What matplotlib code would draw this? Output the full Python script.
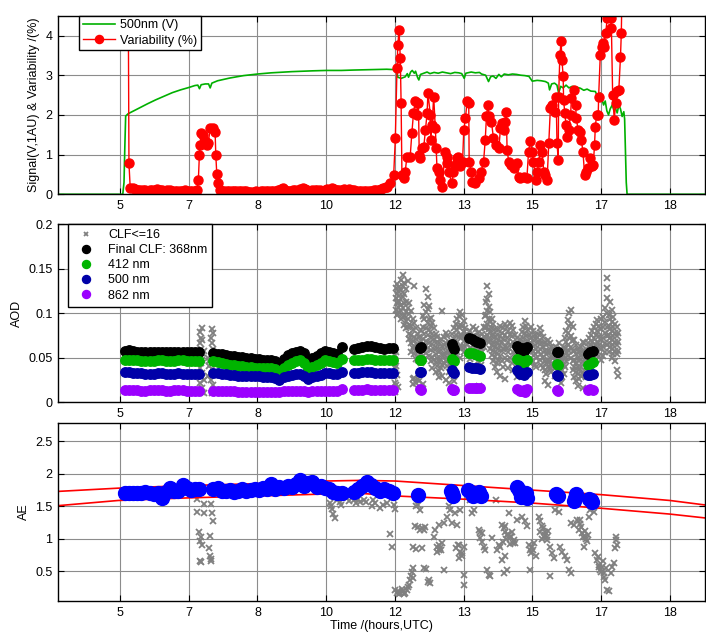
import numpy as np
import matplotlib.pyplot as plt

plt.rcParams['font.family'] = ['Liberation Sans', 'DejaVu Sans']
plt.rcParams['font.size'] = 9

# time axis in hours UTC; ticks every 100 min, labelled with the hour only
tick_labels = ['5', '7', '8', '10', '12', '13', '15', '17', '18']
tick_hours = [5 + 1 / 3 + k * 5 / 3 for k in range(len(tick_labels))]
x_range = (3.83, 19.53)

# ---------------- panel 1: signal and variability ----------------
signal_t = [3.83, 5.40, 5.43, 5.45, 5.47, 5.53, 5.70, 5.85, 6.00, 6.20, 6.40, 6.60,
            6.80, 7.00, 7.15, 7.22, 7.26, 7.30, 7.40, 7.48, 7.52, 7.56, 7.70, 8.00,
            8.33, 8.67, 9.00, 9.50, 10.00, 10.33, 10.70, 11.00, 11.40, 11.80, 12.00,
            12.04, 12.07, 12.15, 12.25, 12.30, 12.33, 12.38, 12.42, 12.47, 12.50, 12.55,
            12.58, 12.62, 12.70, 12.78, 12.85, 12.95, 13.05, 13.15, 13.25, 13.35, 13.45,
            13.55, 13.62, 13.68, 13.72, 13.85, 13.95, 14.05, 14.10, 14.20, 14.27, 14.32,
            14.38, 14.45, 14.52, 14.58, 14.65, 14.75, 14.85, 14.95, 15.05, 15.15, 15.25,
            15.33, 15.45, 15.55, 15.65, 15.72, 15.75, 15.80, 15.87, 15.93, 15.97, 16.02,
            16.08, 16.15, 16.22, 16.30, 16.40, 16.50, 16.58, 16.66, 16.75, 16.86, 16.92,
            16.98, 17.02, 17.06, 17.10, 17.14, 17.18, 17.22, 17.27, 17.31, 17.35, 17.39,
            17.43, 17.47, 17.51, 17.55, 17.57, 17.61, 17.63, 19.53]
signal_v = [0, 0, 0.3, 1.2, 1.97, 2.03, 2.12, 2.20, 2.28, 2.38, 2.47, 2.56,
            2.63, 2.69, 2.74, 2.75, 2.66, 2.76, 2.78, 2.78, 2.68, 2.80, 2.86, 2.93,
            2.99, 3.03, 3.06, 3.09, 3.11, 3.12, 3.12, 3.13, 3.14, 3.15, 3.14,
            3.13, 2.95, 2.92, 2.96, 3.04, 2.95, 3.08, 3.12, 3.05, 3.10, 2.94,
            2.88, 3.02, 3.05, 3.08, 3.04, 3.07, 3.05, 3.08, 3.06, 3.04, 3.07,
            3.06, 3.04, 2.92, 3.05, 3.08, 3.06, 3.07, 3.03, 3.00, 2.84, 2.96,
            2.98, 2.92, 3.02, 2.96, 3.03, 3.01, 3.03, 3.02, 3.00, 2.99, 2.97,
            2.85, 2.87, 2.86, 2.84, 2.80, 2.63, 2.78, 2.80, 2.75, 2.55, 2.72,
            2.68, 2.75, 2.68, 2.72, 2.70, 2.67, 2.62, 2.65, 2.60, 2.59, 2.45,
            2.55, 2.40, 2.25, 2.35, 2.10, 2.00, 2.15, 2.25, 2.12, 2.16, 2.05,
            2.25, 2.15, 1.96, 2.08, 1.90, 0.30, 0, 0]

# variability: first sample is off scale
var_start_t = [5.52, 5.55]
var_start_v = [8.0, 0.78]
# quiet morning, regular sampling 5.58 h .. 7.20 h
var_morning = [0.17, 0.15, 0.13, 0.12, 0.11, 0.10, 0.10, 0.09, 0.10, 0.11, 0.12, 0.13, 0.12, 0.10,
               0.09, 0.10, 0.11, 0.09, 0.08, 0.09, 0.08, 0.09, 0.10, 0.09, 0.08, 0.08, 0.09, 0.10]
var_bump_t = [7.233, 7.258, 7.275, 7.299, 7.355, 7.396, 7.437, 7.476, 7.518, 7.598,
              7.639, 7.656, 7.680, 7.719, 7.760]
var_bump_v = [0.36, 0.99, 1.24, 1.54, 1.50, 1.33, 1.24, 1.30, 1.66, 1.66,
              1.58, 0.99, 0.51, 0.29, 0.11]
# quiet midday, regular sampling 7.80 h .. 11.78 h
var_midday = [0.09, 0.08, 0.09, 0.08, 0.08, 0.07, 0.08, 0.07, 0.07, 0.08, 0.07, 0.06, 0.06, 0.06,
              0.07, 0.06, 0.07, 0.07, 0.08, 0.07, 0.08, 0.09, 0.08, 0.10, 0.14, 0.16, 0.12, 0.09,
              0.08, 0.10, 0.12, 0.09, 0.13, 0.17, 0.14, 0.10, 0.09, 0.10, 0.12, 0.10, 0.11, 0.09,
              0.11, 0.13, 0.12, 0.16, 0.14, 0.11, 0.10, 0.12, 0.13, 0.11, 0.14, 0.12, 0.10, 0.08,
              0.07, 0.08, 0.07, 0.08, 0.09, 0.08, 0.10, 0.11, 0.12, 0.13, 0.16, 0.19]
var_pm_t = [11.81, 11.89, 11.97, 12.01, 12.05, 12.07, 12.10, 12.13, 12.15, 12.17, 12.21, 12.25,
            12.29, 12.37, 12.41, 12.45, 12.49, 12.53, 12.57, 12.59, 12.62, 12.66, 12.70, 12.74,
            12.78, 12.80, 12.86, 12.87, 12.90, 12.94, 12.98, 13.00, 13.02, 13.06, 13.10, 13.14,
            13.22, 13.26, 13.27, 13.30, 13.38, 13.42, 13.46, 13.51, 13.54, 13.59, 13.64, 13.67,
            13.71, 13.75, 13.79, 13.80, 13.85, 13.88, 13.95, 14.03, 14.09, 14.15, 14.19, 14.22,
            14.25, 14.29, 14.34, 14.39, 14.44, 14.52, 14.56, 14.60, 14.64, 14.66, 14.70, 14.72,
            14.76, 14.82, 14.88, 14.96, 15.00, 15.04, 15.12, 15.20, 15.24, 15.28, 15.33, 15.36,
            15.41, 15.45, 15.49, 15.53, 15.57, 15.61, 15.65, 15.69, 15.73, 15.77, 15.81, 15.87,
            15.91, 15.93, 15.96, 15.97, 16.00, 16.03, 16.05, 16.08, 16.09, 16.12, 16.15, 16.18,
            16.21, 16.26, 16.28, 16.34, 16.38, 16.40, 16.44, 16.48, 16.52, 16.56, 16.60, 16.64,
            16.69, 16.72, 16.77, 16.81, 16.84, 16.86, 16.89, 16.93, 16.94, 16.98, 17.01, 17.04,
            17.06, 17.11, 17.15, 17.19, 17.23, 17.25, 17.28, 17.32, 17.35, 17.39, 17.43, 17.47,
            17.49, 17.52]
var_pm_v = [0.19, 0.28, 0.49, 1.41, 3.18, 3.77, 4.14, 3.43, 2.29, 0.49, 0.40, 0.57,
            0.95, 0.95, 1.54, 2.04, 2.34, 2.00, 2.29, 0.99, 0.91, 1.16, 1.20, 1.62,
            2.04, 2.55, 2.00, 1.37, 1.75, 2.46, 1.66, 1.16, 0.66, 0.57, 0.36, 0.19,
            1.07, 0.95, 0.78, 0.57, 0.28, 0.57, 0.74, 0.91, 0.95, 0.70, 0.82, 1.62,
            1.92, 2.34, 2.29, 0.82, 0.57, 0.32, 0.28, 0.40, 0.57, 0.82, 1.37, 1.96,
            2.25, 1.96, 1.83, 1.41, 1.24, 1.16, 1.66, 1.79, 1.62, 1.83, 2.08, 1.12,
            0.82, 0.74, 0.66, 0.78, 0.44, 0.40, 0.44, 0.40, 1.07, 1.33, 1.07, 0.82,
            0.36, 0.57, 0.82, 1.24, 1.07, 0.57, 0.49, 0.36, 1.29, 2.17, 2.25, 2.08,
            2.46, 1.29, 0.87, 2.46, 3.51, 3.85, 3.39, 2.97, 2.38, 2.04, 1.75, 1.45,
            1.62, 2.00, 2.42, 2.63, 2.25, 1.92, 1.62, 1.58, 1.37, 1.07, 0.49, 0.57,
            0.66, 0.91, 0.70, 0.74, 1.24, 1.70, 2.00, 2.00, 2.46, 3.51, 3.72, 3.81,
            3.72, 4.06, 4.44, 6.00, 4.44, 4.19, 2.50, 1.87, 2.29, 2.59, 2.63, 3.47,
            4.06, 6.00]

# ---------------- panel 2: AOD ----------------
# sample times of the cloud-screened points (shared by all wavelengths)
aod_t = np.concatenate([np.linspace(5.45, 7.25, 19), np.linspace(7.6, 10.6, 31), [10.72],
                        np.linspace(11.0, 11.95, 10),
                        [12.61, 12.64, 13.38, 13.41, 13.44, 13.79, 13.86, 13.93, 14.00, 14.07,
                         14.96, 15.00, 15.04, 15.08, 15.12, 15.16, 15.20, 15.92, 15.95,
                         16.68, 16.74, 16.80]])
aod_368 = [0.058, 0.059, 0.058, 0.057, 0.057, 0.056, 0.056, 0.056, 0.057, 0.057, 0.056, 0.056,
           0.057, 0.057, 0.057, 0.056, 0.056, 0.056, 0.057,
           0.055, 0.054, 0.054, 0.053, 0.052, 0.052, 0.051, 0.051, 0.050, 0.050, 0.049, 0.049,
           0.048, 0.048, 0.047, 0.046, 0.044, 0.049, 0.053, 0.055, 0.057, 0.058, 0.055, 0.047,
           0.050, 0.052, 0.055, 0.058, 0.057, 0.055, 0.054,
           0.062,
           0.060, 0.061, 0.062, 0.063, 0.063, 0.062, 0.061, 0.060, 0.061, 0.061,
           0.061, 0.062, 0.065, 0.062, 0.060, 0.072, 0.071, 0.069, 0.068, 0.066,
           0.063, 0.060, 0.059, 0.061, 0.058, 0.060, 0.062, 0.057, 0.056, 0.054, 0.056, 0.058]
aod_412 = [0.047, 0.048, 0.047, 0.047, 0.046, 0.046, 0.046, 0.046, 0.047, 0.047, 0.046, 0.046,
           0.046, 0.047, 0.047, 0.046, 0.046, 0.046, 0.046,
           0.046, 0.045, 0.044, 0.043, 0.042, 0.042, 0.041, 0.041, 0.040, 0.040, 0.039, 0.039,
           0.039, 0.038, 0.038, 0.037, 0.035, 0.039, 0.042, 0.044, 0.046, 0.047, 0.044, 0.037,
           0.040, 0.042, 0.044, 0.047, 0.046, 0.045, 0.044,
           0.049,
           0.047, 0.048, 0.048, 0.049, 0.049, 0.048, 0.047, 0.047, 0.047, 0.047,
           0.047, 0.048, 0.049, 0.047, 0.046, 0.055, 0.055, 0.054, 0.053, 0.052,
           0.049, 0.047, 0.045, 0.046, 0.044, 0.046, 0.048, 0.043, 0.042, 0.042, 0.043, 0.045]
aod_500 = [0.034, 0.034, 0.033, 0.033, 0.033, 0.032, 0.032, 0.032, 0.033, 0.033, 0.032, 0.032,
           0.032, 0.033, 0.032, 0.032, 0.032, 0.032, 0.032,
           0.033, 0.033, 0.032, 0.032, 0.031, 0.031, 0.030, 0.030, 0.030, 0.029, 0.029, 0.029,
           0.028, 0.028, 0.028, 0.027, 0.025, 0.028, 0.030, 0.031, 0.032, 0.032, 0.030, 0.026,
           0.028, 0.030, 0.031, 0.033, 0.033, 0.032, 0.032,
           0.034,
           0.033, 0.033, 0.034, 0.034, 0.034, 0.033, 0.033, 0.033, 0.033, 0.033,
           0.034, 0.034, 0.036, 0.034, 0.033, 0.040, 0.039, 0.039, 0.038, 0.037,
           0.036, 0.034, 0.032, 0.033, 0.031, 0.033, 0.034, 0.031, 0.030, 0.031, 0.031, 0.032]
aod_862 = [0.014, 0.014, 0.014, 0.014, 0.013, 0.013, 0.014, 0.014, 0.014, 0.014, 0.013, 0.013,
           0.014, 0.014, 0.014, 0.013, 0.013, 0.013, 0.013,
           0.013, 0.013, 0.013, 0.013, 0.013, 0.013, 0.012, 0.012, 0.012, 0.012, 0.012, 0.012,
           0.012, 0.012, 0.012, 0.012, 0.012, 0.013, 0.013, 0.013, 0.013, 0.013, 0.013, 0.012,
           0.013, 0.013, 0.013, 0.013, 0.013, 0.013, 0.013,
           0.015,
           0.014, 0.014, 0.014, 0.015, 0.014, 0.014, 0.014, 0.014, 0.014, 0.014,
           0.015, 0.014, 0.015, 0.014, 0.014, 0.016, 0.016, 0.016, 0.016, 0.016,
           0.015, 0.014, 0.013, 0.013, 0.014, 0.012, 0.015, 0.014, 0.013, 0.014, 0.015, 0.014]

# loosely screened points (CLF<=16): hour -> AOD values seen at that time
clf_aod = [
    (7.27, [0.079, 0.066, 0.050, 0.038, 0.022]), (7.29, [0.072, 0.060, 0.044, 0.028]),
    (7.31, [0.083, 0.055, 0.033, 0.016]), (7.33, [0.070, 0.047, 0.012]), (7.36, [0.058, 0.025, 0.010]),
    (7.46, [0.050, 0.030]), (7.49, [0.046, 0.041]),
    (7.55, [0.072, 0.043, 0.025]), (7.57, [0.082, 0.066, 0.037, 0.011]),
    (7.59, [0.078, 0.060, 0.049, 0.031, 0.019]), (7.61, [0.054, 0.014]),
    (11.97, [0.061, 0.045, 0.030, 0.015]), (11.99, [0.053, 0.038, 0.022, 0.012]),
    (12.02, [0.128, 0.117, 0.104, 0.056, 0.041, 0.020]), (12.05, [0.133, 0.121, 0.111, 0.098, 0.031]),
    (12.08, [0.125, 0.114, 0.107, 0.099, 0.017]), (12.11, [0.129, 0.119, 0.112, 0.101]),
    (12.15, [0.137, 0.126, 0.109, 0.103, 0.094]), (12.19, [0.143, 0.131, 0.118, 0.106, 0.096]),
    (12.23, [0.134, 0.121, 0.111, 0.097, 0.087]), (12.27, [0.127, 0.113, 0.101, 0.091, 0.083]),
    (12.31, [0.136, 0.106, 0.094, 0.085]), (12.35, [0.111, 0.099, 0.087, 0.077, 0.071]),
    (12.39, [0.102, 0.086, 0.075, 0.067, 0.057]), (12.43, [0.093, 0.081, 0.069, 0.061, 0.026, 0.021]),
    (12.47, [0.131, 0.089, 0.073, 0.063, 0.054, 0.027]), (12.51, [0.083, 0.071, 0.059, 0.049, 0.022]),
    (12.55, [0.077, 0.065, 0.057, 0.047, 0.026]), (12.59, [0.073, 0.063, 0.051, 0.024]),
    (12.63, [0.081, 0.069, 0.055, 0.044]), (12.67, [0.097, 0.084, 0.071, 0.058, 0.021]),
    (12.71, [0.109, 0.093, 0.077, 0.063, 0.049]), (12.75, [0.127, 0.101, 0.083, 0.069, 0.055]),
    (12.79, [0.118, 0.105, 0.089, 0.075, 0.061]), (12.83, [0.108, 0.094, 0.081, 0.066, 0.052]),
    (12.87, [0.095, 0.086, 0.072, 0.059, 0.046]), (12.91, [0.089, 0.077, 0.065, 0.051, 0.039]),
    (12.95, [0.083, 0.071, 0.060, 0.048]), (12.99, [0.077, 0.066, 0.054, 0.045, 0.034]),
    (13.03, [0.073, 0.061, 0.050, 0.041]), (13.07, [0.067, 0.056, 0.046, 0.035, 0.028]),
    (13.11, [0.071, 0.059, 0.047, 0.038]), (13.15, [0.103, 0.063, 0.053, 0.042, 0.030]),
    (13.19, [0.073, 0.064, 0.053, 0.044]), (13.23, [0.078, 0.067, 0.057, 0.046, 0.025]),
    (13.27, [0.074, 0.062, 0.051, 0.041]), (13.31, [0.068, 0.057, 0.047, 0.034, 0.022]),
    (13.35, [0.065, 0.054, 0.043, 0.031]), (13.39, [0.077, 0.066, 0.052, 0.040]),
    (13.43, [0.083, 0.071, 0.058, 0.047, 0.024]), (13.47, [0.088, 0.075, 0.064, 0.053]),
    (13.51, [0.093, 0.081, 0.068, 0.057]), (13.55, [0.097, 0.085, 0.073, 0.061]),
    (13.59, [0.101, 0.087, 0.076, 0.063, 0.050]), (13.63, [0.098, 0.086, 0.074, 0.062]),
    (13.67, [0.091, 0.079, 0.069, 0.057]), (13.71, [0.083, 0.073, 0.062]),
    (13.75, [0.077, 0.065, 0.055]), (13.83, [0.080, 0.071, 0.061, 0.049]),
    (13.89, [0.084, 0.074, 0.063]), (13.97, [0.082, 0.071, 0.062, 0.051]),
    (14.01, [0.078, 0.067, 0.057, 0.046]), (14.05, [0.074, 0.064, 0.053, 0.018]),
    (14.09, [0.070, 0.061, 0.050, 0.042]), (14.12, [0.077, 0.066, 0.056]),
    (14.15, [0.085, 0.073, 0.062]), (14.18, [0.097, 0.083, 0.070]),
    (14.21, [0.113, 0.098, 0.084, 0.072]), (14.24, [0.130, 0.116, 0.102, 0.088, 0.076]),
    (14.27, [0.121, 0.107, 0.094, 0.082, 0.068]), (14.31, [0.101, 0.090, 0.079, 0.070, 0.060]),
    (14.35, [0.094, 0.083, 0.074, 0.064, 0.053]), (14.39, [0.088, 0.077, 0.068, 0.058, 0.046]),
    (14.43, [0.082, 0.073, 0.062, 0.051, 0.040]), (14.47, [0.076, 0.066, 0.055, 0.044, 0.034]),
    (14.51, [0.081, 0.070, 0.060, 0.048]), (14.55, [0.086, 0.074, 0.064, 0.052, 0.030]),
    (14.59, [0.078, 0.068, 0.058, 0.046]), (14.63, [0.083, 0.071, 0.060, 0.040]),
    (14.67, [0.088, 0.075, 0.062, 0.050, 0.026]), (14.71, [0.085, 0.072, 0.061, 0.048]),
    (14.75, [0.080, 0.068, 0.056, 0.038]), (14.79, [0.089, 0.076, 0.064, 0.050]),
    (14.83, [0.086, 0.074, 0.063, 0.044]), (14.87, [0.081, 0.068, 0.056, 0.036]),
    (14.91, [0.076, 0.064, 0.052]), (14.95, [0.072, 0.060, 0.046, 0.028]),
    (14.99, [0.067, 0.054, 0.041]), (15.03, [0.071, 0.058, 0.047]),
    (15.07, [0.079, 0.066, 0.054, 0.043]), (15.11, [0.085, 0.072, 0.061, 0.050]),
    (15.15, [0.091, 0.078, 0.066, 0.055]), (15.19, [0.086, 0.074, 0.063, 0.050]),
    (15.23, [0.081, 0.069, 0.058, 0.046]), (15.27, [0.076, 0.066, 0.056, 0.044]),
    (15.31, [0.085, 0.072, 0.061, 0.050]), (15.35, [0.080, 0.070, 0.058, 0.046]),
    (15.39, [0.075, 0.064, 0.054, 0.042]), (15.43, [0.071, 0.060, 0.050, 0.040]),
    (15.47, [0.077, 0.066, 0.056]), (15.51, [0.083, 0.070, 0.060, 0.048]),
    (15.55, [0.078, 0.066, 0.054, 0.042]), (15.59, [0.073, 0.062, 0.050, 0.038]),
    (15.63, [0.068, 0.058, 0.046, 0.036, 0.024]), (15.67, [0.064, 0.054, 0.044, 0.032]),
    (15.71, [0.070, 0.058, 0.048, 0.040, 0.020]), (15.75, [0.066, 0.056, 0.046, 0.038]),
    (15.79, [0.062, 0.052, 0.042, 0.034]), (15.83, [0.061, 0.050, 0.040]),
    (15.87, [0.058, 0.048, 0.038, 0.030]), (15.90, [0.062, 0.052, 0.040]),
    (15.98, [0.066, 0.056, 0.046, 0.036]), (16.02, [0.060, 0.050, 0.042, 0.030, 0.022]),
    (16.06, [0.056, 0.046, 0.036, 0.028]), (16.10, [0.062, 0.052, 0.042, 0.032]),
    (16.13, [0.072, 0.060, 0.050, 0.040]), (16.16, [0.080, 0.068, 0.056, 0.046]),
    (16.19, [0.092, 0.078, 0.064, 0.052]), (16.23, [0.100, 0.086, 0.072, 0.058]),
    (16.27, [0.104, 0.088, 0.074, 0.062, 0.050]), (16.31, [0.084, 0.070, 0.058, 0.046, 0.036]),
    (16.35, [0.070, 0.058, 0.048, 0.040, 0.028]), (16.39, [0.064, 0.054, 0.044, 0.034, 0.024]),
    (16.43, [0.060, 0.050, 0.040, 0.032, 0.018]), (16.47, [0.056, 0.046, 0.036, 0.026]),
    (16.51, [0.062, 0.052, 0.040, 0.030]), (16.55, [0.068, 0.058, 0.046, 0.034, 0.016]),
    (16.59, [0.066, 0.054, 0.044, 0.032]), (16.63, [0.060, 0.050, 0.040, 0.028]),
    (16.67, [0.066, 0.056, 0.046, 0.036]), (16.71, [0.072, 0.062, 0.050, 0.040]),
    (16.75, [0.076, 0.064, 0.054, 0.044]), (16.79, [0.080, 0.068, 0.058, 0.048]),
    (16.83, [0.084, 0.072, 0.062, 0.050]), (16.87, [0.088, 0.076, 0.064, 0.054]),
    (16.91, [0.092, 0.080, 0.068, 0.058]), (16.95, [0.086, 0.074, 0.064, 0.052]),
    (17.00, [0.094, 0.082, 0.070, 0.060, 0.048]), (17.05, [0.096, 0.084, 0.072, 0.062, 0.052]),
    (17.10, [0.106, 0.090, 0.078, 0.066, 0.056]),
    (17.14, [0.139, 0.128, 0.117, 0.100, 0.084, 0.074, 0.064]),
    (17.18, [0.098, 0.086, 0.076, 0.066, 0.056]), (17.22, [0.112, 0.094, 0.082, 0.072, 0.062]),
    (17.26, [0.104, 0.090, 0.080, 0.070, 0.060, 0.050]), (17.30, [0.096, 0.084, 0.074, 0.064, 0.054]),
    (17.34, [0.088, 0.078, 0.068, 0.058, 0.046]), (17.38, [0.084, 0.074, 0.064, 0.054, 0.036]),
    (17.42, [0.078, 0.068, 0.058, 0.030]),
]

# ---------------- panel 3: Angstrom exponent ----------------
ae_t = np.concatenate([np.linspace(5.45, 7.25, 19), np.linspace(7.6, 10.6, 31), [10.72],
                       np.linspace(11.0, 11.95, 10),
                       [12.57, 13.36, 13.38, 13.40, 13.78, 13.84, 13.90, 13.95, 14.00, 14.05,
                        14.08, 14.96, 15.00, 15.04, 15.06, 15.10, 15.14, 15.18, 15.20, 15.90,
                        15.93, 15.96, 16.34, 16.36, 16.39, 16.70, 16.75, 16.78]])
ae_v = [1.71, 1.71, 1.70, 1.71, 1.70, 1.72, 1.70, 1.69, 1.70, 1.63, 1.72, 1.78, 1.73, 1.74,
        1.83, 1.78, 1.75, 1.77, 1.76,
        1.76, 1.78, 1.74, 1.73, 1.75, 1.72, 1.74, 1.76, 1.73, 1.75, 1.77, 1.75, 1.78, 1.76,
        1.84, 1.77, 1.80, 1.79, 1.82, 1.80, 1.85, 1.90, 1.82, 1.86, 1.88, 1.80, 1.82, 1.78,
        1.76, 1.72, 1.70,
        1.71,
        1.72, 1.76, 1.82, 1.87, 1.83, 1.78, 1.74, 1.77, 1.73, 1.70,
        1.68, 1.74, 1.70, 1.66, 1.75, 1.72, 1.66, 1.70, 1.68, 1.72,
        1.66, 1.80, 1.75, 1.72, 1.65, 1.68, 1.66, 1.70, 1.63, 1.69,
        1.68, 1.66, 1.58, 1.63, 1.69, 1.62, 1.60, 1.56]

# expected AE envelope (upper and lower limits)
env_t = [3.83, 5.29, 6.98, 8.68, 10.33, 11.17, 12.01, 13.67, 15.33, 17.00, 18.67, 19.53]
env_hi = [1.73, 1.78, 1.82, 1.85, 1.89, 1.90, 1.89, 1.82, 1.75, 1.68, 1.59, 1.52]
env_lo = [1.51, 1.59, 1.63, 1.66, 1.69, 1.70, 1.66, 1.61, 1.55, 1.47, 1.38, 1.32]

clf_ae_t = [7.19, 7.21, 7.24, 7.27, 7.30, 7.32, 7.27, 7.29, 7.36, 7.37, 7.48, 7.51, 7.54, 7.54,
            7.56, 7.60, 7.52, 7.55,
            10.43, 10.47, 10.51, 10.55, 10.46, 10.60, 10.67, 10.70, 10.84, 10.88, 11.00, 11.05,
            11.10, 11.16, 11.24, 11.30, 11.44, 11.48, 11.52, 11.64, 11.70, 11.81, 11.89, 11.93,
            11.97, 11.99,
            12.01, 12.04, 12.07, 12.10, 12.13, 12.16, 12.19, 12.22, 12.25, 12.29, 12.31, 12.33,
            12.36, 12.39, 12.41, 12.45, 12.44, 12.49, 12.52, 12.57, 12.62, 12.55, 12.60, 12.66,
            12.70, 12.74, 12.45, 12.50, 12.66, 12.70, 12.76, 12.79, 12.82, 12.86,
            12.94, 12.98, 13.02, 13.06, 13.10, 13.14, 13.18, 13.02, 13.06, 13.12, 13.06, 13.18,
            13.26, 13.30, 13.34, 13.38, 13.46, 13.51, 13.59, 13.48, 13.52, 13.55, 13.59, 13.63,
            13.67, 13.55, 13.62, 13.68, 13.68,
            13.75, 13.83, 13.87, 13.91, 14.03, 14.07, 14.11, 14.07, 14.11, 14.15, 14.19, 14.23,
            14.27, 14.31, 14.35, 14.44, 14.48, 14.52, 14.56, 14.60, 14.64, 14.68, 14.72, 14.76,
            14.80, 14.84, 14.88, 14.62, 14.66, 14.70, 14.74, 14.78, 14.82, 14.86, 14.60, 14.68,
            14.64, 14.72, 14.92,
            14.96, 15.08, 15.16, 15.20, 15.24, 15.28, 15.33, 15.37, 15.41, 15.28, 15.30, 15.35,
            15.49, 15.53, 15.57, 15.61, 15.65, 15.69, 15.52, 15.56, 15.60, 15.64, 15.68, 15.72,
            15.77, 15.81, 15.85, 15.77, 15.89, 15.97,
            16.01, 16.05, 16.13, 16.18, 16.21, 16.26, 16.26, 16.34, 16.42, 16.50, 16.46, 16.54,
            16.62, 16.66, 16.58, 16.48, 16.52, 16.56, 16.60, 16.64, 16.68, 16.70, 16.74, 16.82,
            16.86, 16.90, 16.94, 16.98, 17.02, 17.06, 17.10, 17.15, 17.19, 17.23, 17.27, 17.31,
            16.92, 16.96, 17.00, 17.04, 17.08, 17.12, 17.35, 17.39, 17.37, 17.33]
clf_ae_v = [1.62, 1.41, 1.10, 0.96, 1.03, 0.90, 0.65, 0.64, 1.39, 1.53, 0.86, 0.73, 0.65, 1.53,
            1.39, 1.28, 1.04, 0.68,
            1.55, 1.46, 1.38, 1.32, 1.51, 1.60, 1.57, 1.52, 1.63, 1.58, 1.60, 1.55,
            1.62, 1.57, 1.60, 1.56, 1.50, 1.60, 1.55, 1.47, 1.52, 1.55, 1.07, 0.88,
            1.52, 1.46,
            0.21, 0.16, 0.19, 0.14, 0.17, 0.22, 0.19, 0.15, 0.17, 0.21, 0.25, 0.29,
            0.37, 0.43, 0.49, 0.55, 0.39, 1.19, 1.50, 1.52, 1.45, 1.18, 1.14, 1.16,
            1.13, 1.18, 0.88, 0.84, 0.85, 0.55, 0.53, 0.34, 0.37, 0.31,
            1.03, 1.14, 0.88, 0.83, 0.85, 0.93, 0.52, 0.80, 0.91, 0.82, 1.21, 1.24,
            1.34, 1.50, 1.45, 1.24, 1.40, 1.21, 1.45, 0.85, 0.90, 0.91, 0.80, 0.73,
            0.88, 0.70, 0.78, 0.44, 0.29,
            1.65, 1.60, 1.40, 1.45, 1.14, 1.11, 1.09, 1.01, 0.95, 0.88, 0.83, 0.52,
            0.44, 0.42, 1.01, 1.60, 0.83, 0.91, 0.88, 1.21, 1.16, 1.19, 1.06, 1.40,
            1.03, 1.11, 0.98, 0.95, 1.10, 0.99, 1.08, 0.92, 1.02, 0.94, 0.67, 0.73,
            0.47, 0.52, 0.93,
            1.29, 1.34, 1.27, 1.19, 0.90, 0.83, 0.88, 0.93, 0.73, 0.52, 0.78, 0.82,
            1.34, 1.27, 1.19, 1.03, 1.11, 1.03, 1.10, 1.00, 1.16, 1.06, 0.98, 1.12,
            0.88, 0.78, 0.70, 0.42, 1.45, 1.42,
            0.88, 0.80, 0.73, 0.67, 0.52, 0.47, 1.24, 1.21, 1.29, 1.29, 1.14, 1.09,
            1.03, 0.96, 0.88, 1.22, 1.18, 1.02, 1.12, 0.99, 1.06, 1.34, 1.45, 1.42,
            0.78, 0.67, 0.60, 0.52, 0.57, 0.47, 0.37, 0.21, 0.19, 0.47, 0.57, 0.62,
            0.72, 0.56, 0.48, 0.66, 0.41, 0.55, 0.98, 0.91, 1.03, 0.86]

# ---------------- figure ----------------
fig = plt.figure(figsize=(7.06, 6.32), dpi=100)
ax1 = fig.add_axes([0.0822, 0.6926, 0.917, 0.2826])
ax2 = fig.add_axes([0.0822, 0.3634, 0.917, 0.2821])
ax3 = fig.add_axes([0.0822, 0.0491, 0.917, 0.2821])


def style(ax, ylim, yticks, ylabels):
    ax.set_xlim(*x_range)
    ax.set_ylim(*ylim)
    ax.set_xticks(tick_hours)
    ax.set_xticklabels(tick_labels)
    ax.set_yticks(yticks)
    ax.set_yticklabels(ylabels)
    ax.grid(True, color='#8c8c8c', lw=0.8)
    ax.set_axisbelow(True)
    ax.tick_params(direction='in', top=True, right=True, length=4, width=0.8,
                   labelsize=9, pad=4)
    for sp in ax.spines.values():
        sp.set_linewidth(1.0)


# top panel
var_t = (var_start_t + list(np.linspace(5.58, 7.20, len(var_morning))) + var_bump_t
         + list(np.linspace(7.80, 11.78, len(var_midday))) + var_pm_t)
var_v = var_start_v + var_morning + var_bump_v + var_midday + var_pm_v
ax1.plot(signal_t, signal_v, color='#00b000', lw=1.2, label='500nm (V)')
ax1.plot(var_t, var_v, color='r', lw=1.0, marker='o', ms=6.5, mec='r', mfc='r',
         label='Variability (%)')
style(ax1, (0, 4.5), [0, 1, 2, 3, 4], ['0', '1', '2', '3', '4'])
ax1.set_ylabel('Signal(V,1AU) & Variability /(%)', fontsize=9)
ax1.legend(loc='upper left', bbox_to_anchor=(0.032, 1.0), borderaxespad=0,
           fancybox=False, framealpha=1, edgecolor='k', fontsize=9, markerscale=0.9,
           handlelength=2.6, handletextpad=0.4, borderpad=0.3, labelspacing=0.25)

# middle panel
cx = [t for t, vals in clf_aod for _ in vals]
cy = [v for _, vals in clf_aod for v in vals]
ax2.plot(cx, cy, ls='none', marker='x', ms=4.2, mew=1.3, color='#808080', label='CLF<=16')
ax2.plot(aod_t, aod_368, ls='none', marker='o', ms=6.8, color='k', label='Final CLF: 368nm')
ax2.plot(aod_t, aod_412, ls='none', marker='o', ms=6.8, color='#00b400', label='412 nm')
ax2.plot(aod_t, aod_500, ls='none', marker='o', ms=6.8, color='#0000a8', label='500 nm')
ax2.plot(aod_t, aod_862, ls='none', marker='o', ms=6.8, color='#9b00ff', label='862 nm')
style(ax2, (0, 0.2), [0, 0.05, 0.1, 0.15, 0.2], ['0', '0.05', '0.1', '0.15', '0.2'])
ax2.set_ylabel('AOD', fontsize=9)
ax2.legend(loc='upper left', bbox_to_anchor=(0.0154, 1.0), borderaxespad=0,
           fancybox=False, framealpha=1, edgecolor='k', fontsize=9, markerscale=0.85,
           handlelength=2.0, handletextpad=0.8, borderpad=0.4, labelspacing=0.25)

# bottom panel
ax3.plot(clf_ae_t, clf_ae_v, ls='none', marker='x', ms=4.2, mew=1.3, color='#808080')
ax3.plot(env_t, env_hi, color='r', lw=1.2)
ax3.plot(env_t, env_lo, color='r', lw=1.2)
ax3.plot(ae_t, ae_v, ls='none', marker='o', ms=10, color='#0000ff')
style(ax3, (0.04, 2.79), [0.5, 1, 1.5, 2, 2.5], ['0.5', '1', '1.5', '2', '2.5'])
ax3.set_ylabel('AE', fontsize=9)
ax3.set_xlabel('Time /(hours,UTC)', fontsize=9, labelpad=1)

fig.savefig('out.png', dpi=100)
